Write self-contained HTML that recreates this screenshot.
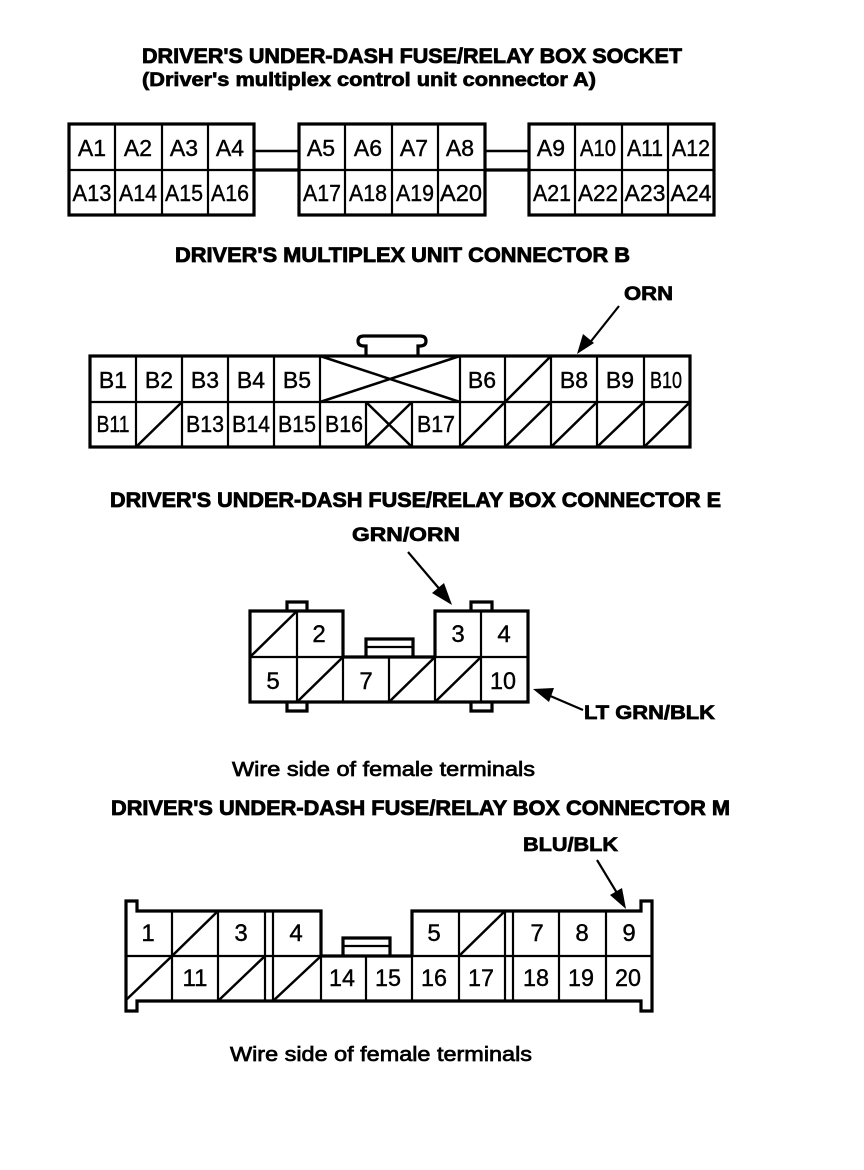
<!DOCTYPE html>
<html><head><meta charset="utf-8"><style>
html,body{margin:0;padding:0;background:#fff}
svg{display:block}
text{font-family:"Liberation Sans",sans-serif;fill:#000}
.t{font-weight:bold;font-size:21px;stroke:#000;stroke-width:.8px}
.s{font-weight:bold;font-size:19px;stroke:#000;stroke-width:.7px}
.w{font-size:20px;stroke:#000;stroke-width:.7px}
.c{font-size:23px;text-anchor:middle;stroke:#000;stroke-width:.4px}
.n{font-size:24px;text-anchor:middle;stroke:#000;stroke-width:.4px}
.b{fill:none;stroke:#000;stroke-width:3.2}
.l{fill:none;stroke:#000;stroke-width:2.2}
.d{fill:none;stroke:#000;stroke-width:2.5}
</style></head><body>
<svg width="864" height="1170" viewBox="0 0 864 1170" xmlns="http://www.w3.org/2000/svg">
<rect width="864" height="1170" fill="#fff"/>
<!-- Titles -->
<text class="t" x="142" y="63" textLength="540" lengthAdjust="spacingAndGlyphs">DRIVER'S UNDER-DASH FUSE/RELAY BOX SOCKET</text>
<text class="s" x="142" y="86" textLength="454" lengthAdjust="spacingAndGlyphs">(Driver's multiplex control unit connector A)</text>
<text class="t" x="175" y="262" textLength="455" lengthAdjust="spacingAndGlyphs">DRIVER'S MULTIPLEX UNIT CONNECTOR B</text>
<text class="t" x="110" y="507" textLength="611" lengthAdjust="spacingAndGlyphs">DRIVER'S UNDER-DASH FUSE/RELAY BOX CONNECTOR E</text>
<text class="t" x="111" y="815" textLength="619" lengthAdjust="spacingAndGlyphs">DRIVER'S UNDER-DASH FUSE/RELAY BOX CONNECTOR M</text>
<text class="s" x="624" y="300" textLength="49" lengthAdjust="spacingAndGlyphs">ORN</text>
<text class="s" x="352" y="541" textLength="108" lengthAdjust="spacingAndGlyphs">GRN/ORN</text>
<text class="s" x="584" y="719" textLength="131" lengthAdjust="spacingAndGlyphs">LT GRN/BLK</text>
<text class="s" x="523" y="851" textLength="95" lengthAdjust="spacingAndGlyphs">BLU/BLK</text>
<text class="w" x="232" y="776" textLength="303" lengthAdjust="spacingAndGlyphs">Wire side of female terminals</text>
<text class="w" x="230" y="1061" textLength="302" lengthAdjust="spacingAndGlyphs">Wire side of female terminals</text>

<!-- Connector A -->
<rect class="b" x="69" y="124" width="185" height="91"/>
<rect class="b" x="299" y="124" width="186" height="91"/>
<rect class="b" x="529" y="124" width="185" height="91"/>
<path class="l" d="M69 170H254M299 170H485M529 170H714M115 124V215M162 124V215M208 124V215M345 124V215M392 124V215M438 124V215M575 124V215M622 124V215M668 124V215"/>
<path class="b" d="M254 170H299M485 170H529"/>
<path class="d" d="M254 151H299M485 151H529"/>
<text class="c" x="92" y="156">A1</text><text class="c" x="138" y="156">A2</text><text class="c" x="184" y="156">A3</text><text class="c" x="230" y="156">A4</text>
<text class="c" x="321" y="156">A5</text><text class="c" x="368" y="156">A6</text><text class="c" x="414" y="156">A7</text><text class="c" x="460" y="156">A8</text>
<text class="c" x="551" y="156">A9</text><text class="c" x="598" y="156" textLength="36" lengthAdjust="spacingAndGlyphs">A10</text><text class="c" x="645" y="156" textLength="36" lengthAdjust="spacingAndGlyphs">A11</text><text class="c" x="691" y="156" textLength="38" lengthAdjust="spacingAndGlyphs">A12</text>
<text class="c" x="92" y="201" textLength="39" lengthAdjust="spacingAndGlyphs">A13</text><text class="c" x="138" y="201" textLength="38" lengthAdjust="spacingAndGlyphs">A14</text><text class="c" x="184" y="201" textLength="38" lengthAdjust="spacingAndGlyphs">A15</text><text class="c" x="230" y="201" textLength="38" lengthAdjust="spacingAndGlyphs">A16</text>
<text class="c" x="322" y="201" textLength="38" lengthAdjust="spacingAndGlyphs">A17</text><text class="c" x="368" y="201" textLength="38" lengthAdjust="spacingAndGlyphs">A18</text><text class="c" x="415" y="201" textLength="38" lengthAdjust="spacingAndGlyphs">A19</text><text class="c" x="461" y="201" textLength="42" lengthAdjust="spacingAndGlyphs">A20</text>
<text class="c" x="552" y="201" textLength="38" lengthAdjust="spacingAndGlyphs">A21</text><text class="c" x="598" y="201" textLength="40" lengthAdjust="spacingAndGlyphs">A22</text><text class="c" x="645" y="201" textLength="41" lengthAdjust="spacingAndGlyphs">A23</text><text class="c" x="691" y="201" textLength="41" lengthAdjust="spacingAndGlyphs">A24</text>

<!-- Connector B -->
<path class="b" d="M366 356V346H364Q358 346 358 341Q358 336 364 336H420Q426 336 426 341Q426 346 420 346H418V356"/>
<rect class="b" x="90" y="356" width="600" height="91"/>
<path class="l" d="M90 402H690M136 356V447M182 356V447M228 356V447M274 356V447M320 356V447M460 356V447M505 356V447M551 356V447M597 356V447M644 356V447M366 402V447M412 402V447"/>
<path class="d" d="M320 356L460 402M320 402L460 356M366 447L412 402M366 402L412 447M136 447L182 402M505 402L551 356M460 447L505 402M505 447L551 402M551 447L597 402M597 447L644 402M644 447L690 402"/>
<text class="c" x="113" y="388">B1</text><text class="c" x="159" y="388">B2</text><text class="c" x="205" y="388">B3</text><text class="c" x="251" y="388">B4</text><text class="c" x="297" y="388">B5</text>
<text class="c" x="482" y="388">B6</text><text class="c" x="574" y="388">B8</text><text class="c" x="620" y="388">B9</text><text class="c" x="666" y="388" textLength="32" lengthAdjust="spacingAndGlyphs">B10</text>
<text class="c" x="113" y="432" textLength="33" lengthAdjust="spacingAndGlyphs">B11</text><text class="c" x="205" y="432" textLength="38" lengthAdjust="spacingAndGlyphs">B13</text><text class="c" x="251" y="432" textLength="38" lengthAdjust="spacingAndGlyphs">B14</text><text class="c" x="297" y="432" textLength="38" lengthAdjust="spacingAndGlyphs">B15</text><text class="c" x="344" y="432" textLength="38" lengthAdjust="spacingAndGlyphs">B16</text><text class="c" x="436" y="432" textLength="38" lengthAdjust="spacingAndGlyphs">B17</text>
<path class="l" d="M619 306L588 345"/>
<path d="M577 354L583 334L594 343Z" fill="#000"/>

<!-- Connector E -->
<path class="b" d="M287 611V602H307V611M471 611V602H492V611M287 702V711H307V702M471 702V711H492V702"/>
<path class="b" d="M343 657V611H250V702H528V611H435V657"/>
<path class="b" d="M366 657V639H413V657"/>
<path class="l" d="M367 647H412"/>
<path class="l" d="M250 657H528M297 611V702M343 657V702M389 657V702M435 657V702M481 611V702"/>
<path class="b" d="M343 657H435"/>
<path class="d" d="M250 657L297 611M297 702L343 657M389 702L435 657M435 702L481 657"/>
<text class="n" x="319" y="642">2</text><text class="n" x="458" y="642">3</text><text class="n" x="504" y="642">4</text>
<text class="n" x="273" y="689">5</text><text class="n" x="366" y="689">7</text><text class="n" x="503" y="689" textLength="26" lengthAdjust="spacingAndGlyphs">10</text>
<path class="l" d="M408 552L442 592"/>
<path d="M452 605L432 593L444 583Z" fill="#000"/>
<path class="l" d="M583 710L548 695"/>
<path d="M533 689L554 688L549 702Z" fill="#000"/>

<!-- Connector M -->
<path class="b" d="M321 956V911H137V901H126V1011H137V1001H641V1011H652V901H641V911H412V956"/>
<path class="b" d="M321 956H412"/>
<path class="b" d="M343 956V938H390V956"/>
<path class="l" d="M344 946H389"/>
<path class="l" d="M126 956H321M412 956H652M172 911V1001M218 911V1001M265 911V1001M273 911V1001M321 956V1001M366 956V1001M412 956V1001M459 911V1001M505 911V1001M513 911V1001M559 911V1001M606 911V1001"/>
<path class="d" d="M172 956L218 911M126 1000L172 956M218 1001L265 956M273 1001L321 956M459 956L505 911"/>
<text class="n" x="148" y="941">1</text><text class="n" x="241" y="941">3</text><text class="n" x="296" y="941">4</text><text class="n" x="434" y="941">5</text><text class="n" x="537" y="941">7</text><text class="n" x="582" y="941">8</text><text class="n" x="629" y="941">9</text>
<text class="n" x="195" y="986">11</text><text class="n" x="342" y="986" textLength="26" lengthAdjust="spacingAndGlyphs">14</text><text class="n" x="388" y="986" textLength="26" lengthAdjust="spacingAndGlyphs">15</text><text class="n" x="434" y="986" textLength="26" lengthAdjust="spacingAndGlyphs">16</text><text class="n" x="481" y="986" textLength="26" lengthAdjust="spacingAndGlyphs">17</text><text class="n" x="536" y="986" textLength="26" lengthAdjust="spacingAndGlyphs">18</text><text class="n" x="581" y="986" textLength="26" lengthAdjust="spacingAndGlyphs">19</text><text class="n" x="628" y="986" textLength="26" lengthAdjust="spacingAndGlyphs">20</text>
<path class="l" d="M597 860L617 893"/>
<path d="M626 909L610 895L622 888Z" fill="#000"/>
</svg>
</body></html>
